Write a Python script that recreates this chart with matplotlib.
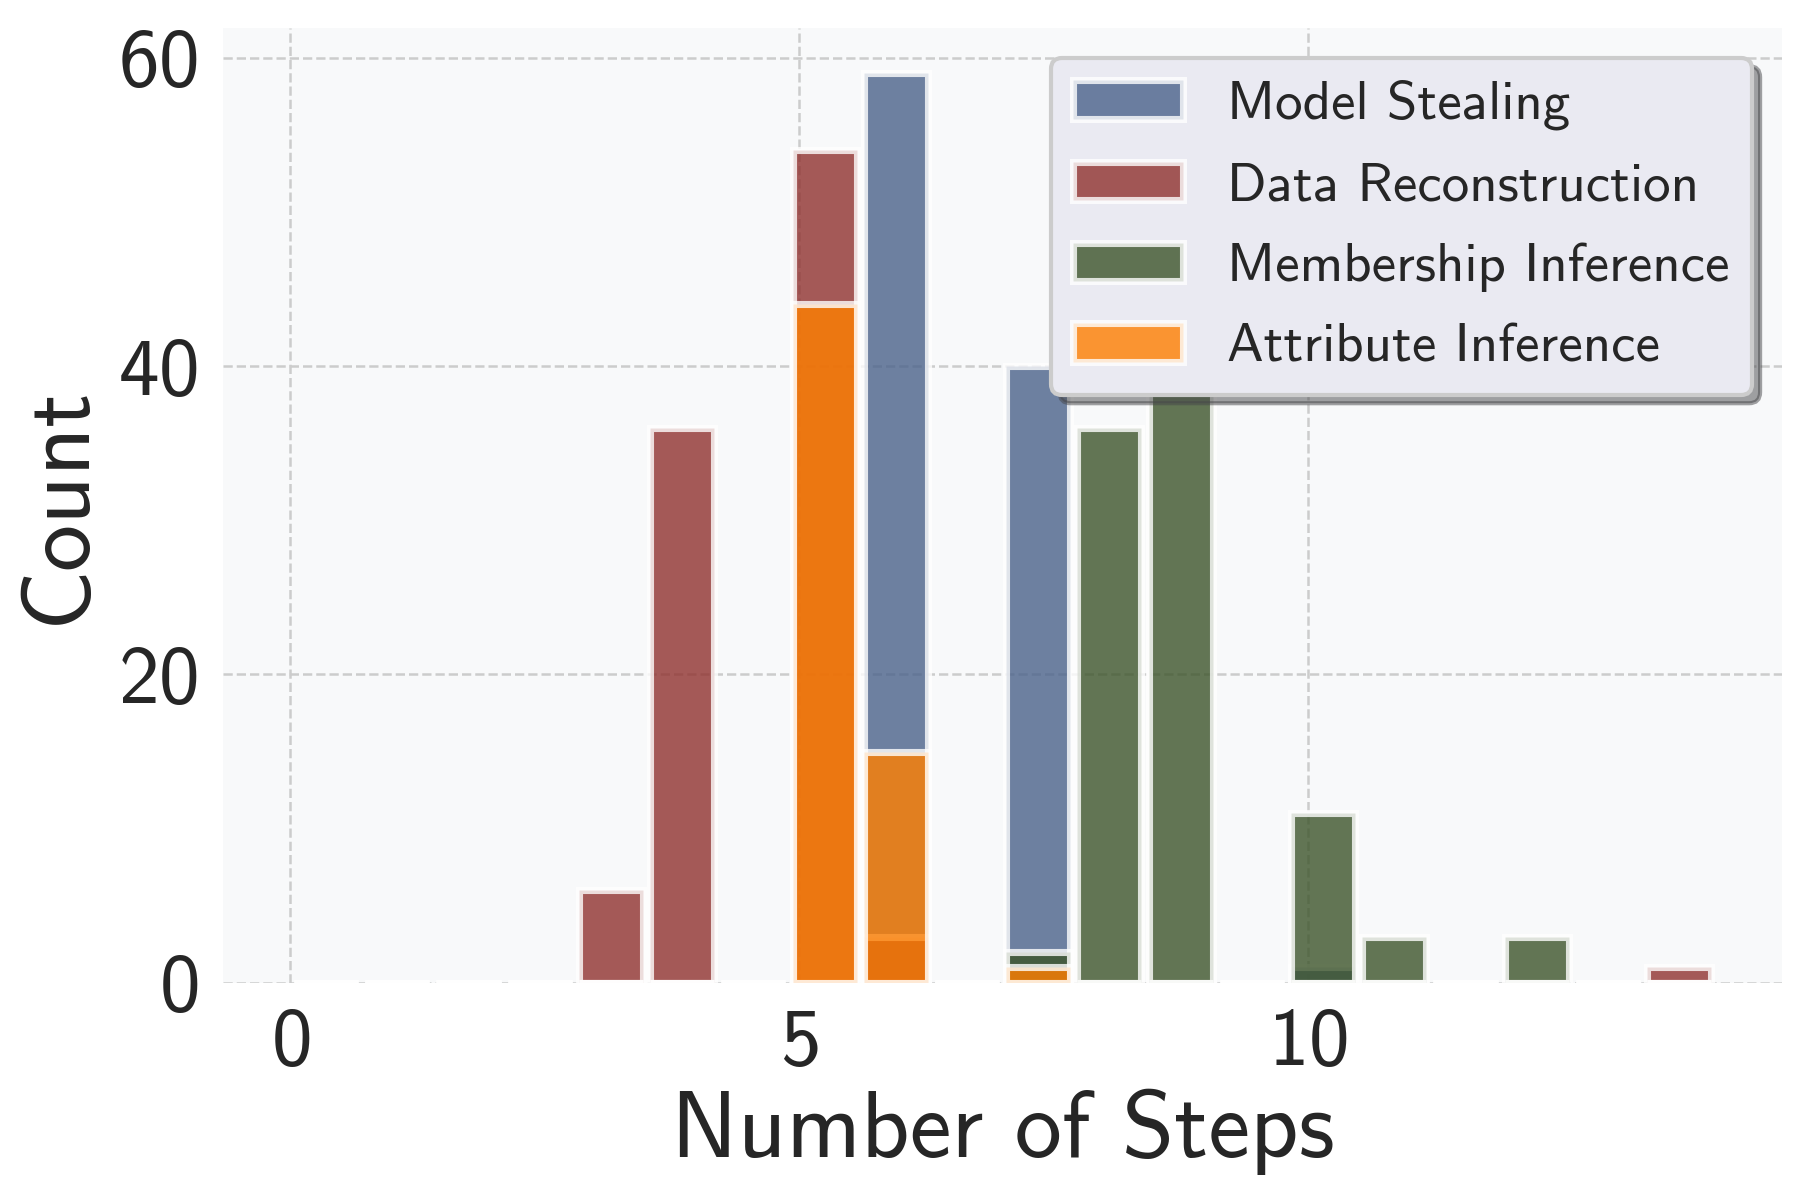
import matplotlib
matplotlib.use('Agg')
import matplotlib.pyplot as plt
import numpy as np

# Fonts and sizes
plt.rcParams['font.family'] = ['cmss10', 'DejaVu Sans']
plt.rcParams['axes.unicode_minus'] = False
plt.rcParams['axes.formatter.use_mathtext'] = True
plt.rcParams['text.color'] = '#262626'
plt.rcParams['axes.labelcolor'] = '#262626'
plt.rcParams['xtick.color'] = '#262626'
plt.rcParams['ytick.color'] = '#262626'

# Counts per number of steps
ms_steps = [6, 7, 10]
ms_counts = [59, 40, 1]

dr_steps = [3, 4, 5, 6, 14]
dr_counts = [6, 36, 54, 3, 1]

mi_steps = [7, 8, 9, 10, 11, 12]
mi_counts = [2, 36, 42, 11, 3, 3]

ai_steps = [5, 6, 7]
ai_counts = [44, 15, 1]

names = ['Model Stealing', 'Data Reconstruction', 'Membership Inference', 'Attribute Inference']
colors = ['#4A628A', '#8F312E', '#3C542A', '#FF7F00']

series = [(ms_steps, ms_counts), (dr_steps, dr_counts),
          (mi_steps, mi_counts), (ai_steps, ai_counts)]

bins = np.linspace(0, 14, 21)

fig, ax = plt.subplots(figsize=(6, 4), dpi=300)
ax.set_facecolor('#F8F9FA')
for s in ax.spines.values():
    s.set_visible(False)

for (steps, counts), name, c in zip(series, names, colors):
    ax.hist(steps, bins=bins, weights=counts, color=c, alpha=0.8,
            edgecolor='white', linewidth=1.7, rwidth=0.9, label=name)

ax.grid(True, linestyle='--', color='#CCCCCC', linewidth=0.6)
ax.set_axisbelow(True)
ax.set_xticks([0, 5, 10])
ax.set_yticks([0, 20, 40, 60])
ax.tick_params(axis='both', labelsize=19.5, length=0, pad=6)
ax.set_xlabel('Number of Steps', fontsize=22.6, labelpad=2)
ax.set_ylabel('Count', fontsize=22.6, labelpad=4)

leg = ax.legend(loc='upper right', fontsize=13.2, shadow=True, fancybox=True,
                facecolor='#EAEAF2', edgecolor='#CCCCCC', framealpha=1,
                labelspacing=0.57, borderaxespad=0.55)

fig.subplots_adjust(left=0.124, right=0.99, top=0.977, bottom=0.181)
fig.savefig('out.png', dpi=300)
